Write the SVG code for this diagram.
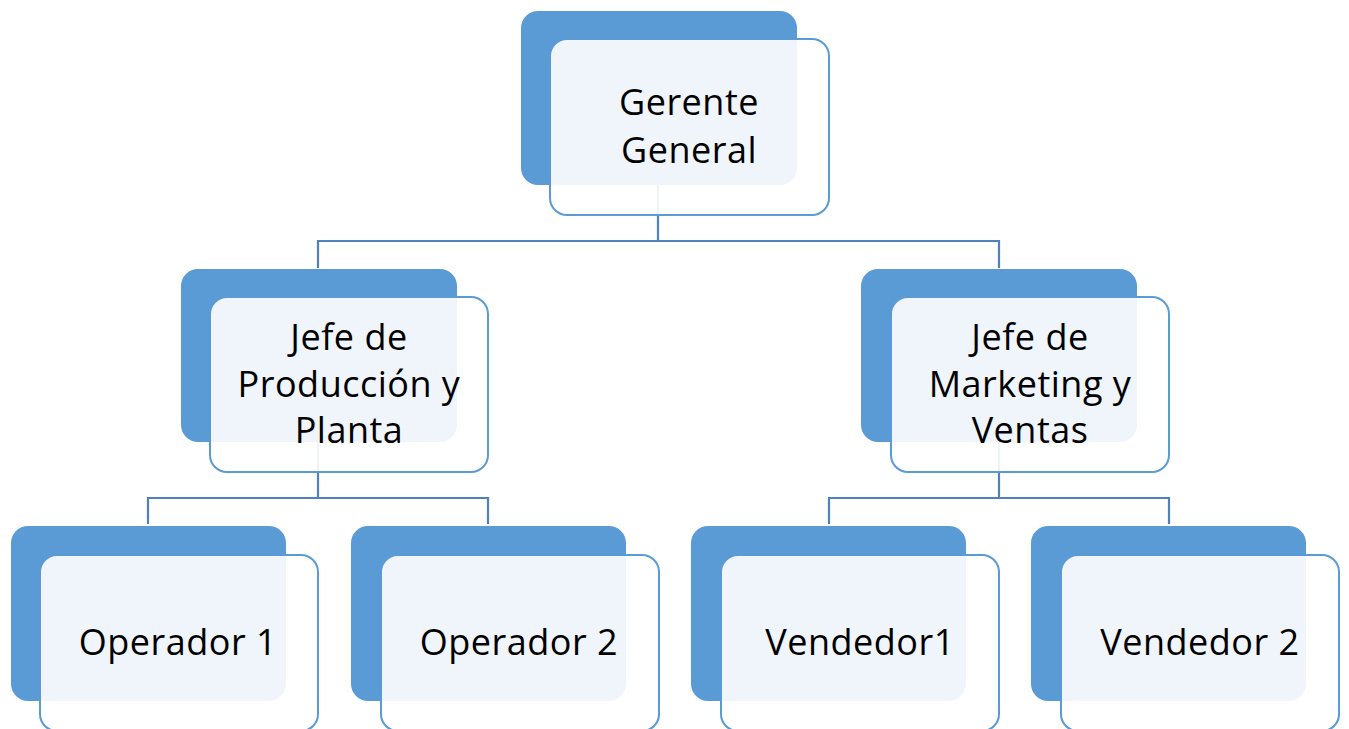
<svg xmlns="http://www.w3.org/2000/svg" width="1349" height="729" viewBox="0 0 1349 729">
  <style>
    .back { fill: #5b9bd5; }
    .front { fill: #ffffff; fill-opacity: 0.9; stroke: #5b9bd5; stroke-width: 2; }
    .conn { fill: none; stroke: #4f81bd; stroke-width: 2.2; }
    .lbl { font-family: "Open Sans", "Noto Sans", sans-serif; font-size: 36px; letter-spacing: 0.5px; fill: #000000; text-anchor: middle; }
  </style>
  <rect width="1349" height="729" fill="#ffffff"/>
  <g id="backs">
    <rect class="back" x="521" y="11" width="276" height="174" rx="17"/>
    <rect class="back" x="181" y="269" width="276" height="173" rx="17"/>
    <rect class="back" x="861" y="269" width="276" height="173" rx="17"/>
    <rect class="back" x="11" y="526" width="275" height="175" rx="17"/>
    <rect class="back" x="351" y="526" width="275" height="175" rx="17"/>
    <rect class="back" x="691" y="526" width="275" height="175" rx="17"/>
    <rect class="back" x="1031" y="526" width="275" height="175" rx="17"/>
  </g>
  <g id="connectors">
    <path class="conn" d="M658,185 V241 M318,241 H999 M318,240 V268 M999,240 V268"/>
    <path class="conn" d="M318,442 V498 M148,498 H488 M148,497 V524 M488,497 V524"/>
    <path class="conn" d="M999,442 V498 M829,498 H1169 M829,497 V524 M1169,497 V524"/>
  </g>
  <g id="node-gerente">
    <rect class="front" x="550" y="39" width="279" height="176" rx="17"/>
    <text class="lbl" x="689" y="115">Gerente</text>
    <text class="lbl" x="689" y="163">General</text>
  </g>
  <g id="node-produccion">
    <rect class="front" x="210" y="297" width="278" height="175" rx="17"/>
    <text class="lbl" x="349" y="350">Jefe de</text>
    <text class="lbl" x="349" y="397">Producción y</text>
    <text class="lbl" x="349" y="443">Planta</text>
  </g>
  <g id="node-marketing">
    <rect class="front" x="891" y="297" width="278" height="175" rx="17"/>
    <text class="lbl" x="1030" y="350">Jefe de</text>
    <text class="lbl" x="1030" y="397">Marketing y</text>
    <text class="lbl" x="1030" y="443">Ventas</text>
  </g>
  <g id="node-operador1">
    <rect class="front" x="40" y="555" width="278" height="176" rx="17"/>
    <text class="lbl" x="178" y="655">Operador 1</text>
  </g>
  <g id="node-operador2">
    <rect class="front" x="381" y="555" width="278" height="176" rx="17"/>
    <text class="lbl" x="519" y="655">Operador 2</text>
  </g>
  <g id="node-vendedor1">
    <rect class="front" x="721" y="555" width="278" height="176" rx="17"/>
    <text class="lbl" x="860" y="655">Vendedor1</text>
  </g>
  <g id="node-vendedor2">
    <rect class="front" x="1061" y="555" width="278" height="176" rx="17"/>
    <text class="lbl" x="1200" y="655">Vendedor 2</text>
  </g>
</svg>
